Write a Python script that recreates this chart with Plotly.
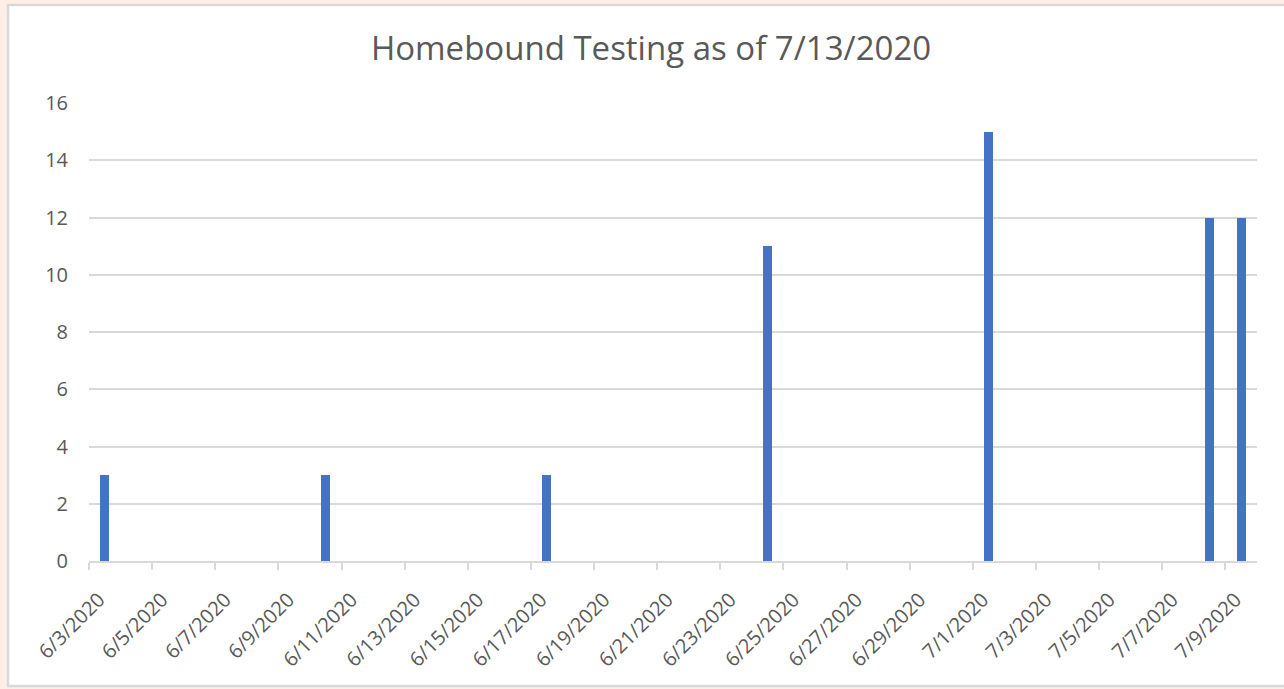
import plotly.graph_objects as go
import pandas as pd

dates = ["2020-06-03", "2020-06-10", "2020-06-17", "2020-06-24", "2020-07-01", "2020-07-08", "2020-07-09"]
tests = [3, 3, 3, 11, 15, 12, 12]
tick_dates = pd.date_range("2020-06-03", "2020-07-09", freq="2D")
tick_vals = [d.strftime("%Y-%m-%d") for d in tick_dates]
tick_text = [f"{d.month}/{d.day}/{d.year}" for d in tick_dates]
title_text = "Homebound Testing as of 7/13/2020"

W, H = 1284, 689
L, R, T, B = 89, 27, 103, 128
pw, ph = W - L - R, H - T - B

def px2x(p):
    return (p - L) / pw

def px2y(p):
    return (H - B - p) / ph

fig = go.Figure(go.Bar(
    x=dates, y=tests,
    xperiod=86400000, xperiodalignment="middle",
    width=0.29 * 86400000,
    marker=dict(color="#4472C4", line=dict(width=0)),
))

fig.update_layout(
    width=W, height=H,
    margin=dict(l=L, r=R, t=T, b=B),
    paper_bgcolor="#FDEEE6",
    plot_bgcolor="white",
    showlegend=False,
    title=dict(text=title_text, x=651 / W, xref="container", xanchor="center",
               y=1 - 48 / H, yref="container", yanchor="middle",
               font=dict(family="Open Sans", size=33, color="#595959")),
    shapes=[dict(type="rect", xref="paper", yref="paper",
                 x0=px2x(8), x1=px2x(1300), y0=px2y(686), y1=px2y(5),
                 fillcolor="white", line=dict(color="#D9D9D9", width=2.5),
                 layer="below")],
    xaxis=dict(
        type="date",
        range=["2020-06-03", "2020-07-10"],
        tickmode="array", tickvals=tick_vals, ticktext=tick_text,
        tickangle=-45,
        tickfont=dict(family="Open Sans", size=20, color="#595959"),
        ticklabelshift=10, ticklabelstandoff=10,
        showgrid=False, showline=True, linecolor="#D9D9D9", linewidth=2,
        ticks="outside", ticklen=7, tickcolor="#D9D9D9", tickwidth=2,
        zeroline=False,
    ),
    yaxis=dict(
        range=[0, 16], dtick=2, tick0=0,
        tickfont=dict(family="Open Sans", size=20, color="#595959"),
        showgrid=True, gridcolor="#D9D9D9", gridwidth=1.5,
        zeroline=False, showline=False, ticks="",
        ticklabelstandoff=20,
    ),
    bargap=0,
)

fig.write_html("out.html", config={"displayModeBar": False},
               post_script="document.body.style.margin='0px';")
